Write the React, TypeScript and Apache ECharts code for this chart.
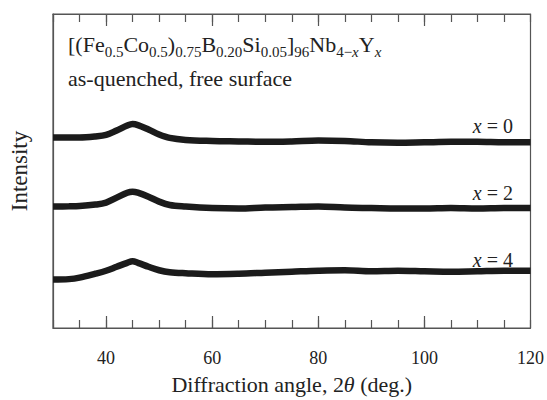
import React, { useEffect, useRef } from "react";
import * as echarts from "echarts";

// Diffraction angle 2θ (deg.)
const angles = [30, 33, 35, 38, 40, 42, 44, 45, 46, 48, 50, 52, 55, 60, 65, 70, 75, 80, 85, 90, 95, 100, 105, 110, 115, 120];
// Intensity (arbitrary units, curves offset vertically)
const seriesX0 = [193, 193, 193, 194, 195.5, 200, 205, 206.5, 205.5, 201, 196, 192.5, 190.5, 189.5, 189, 188.5, 189, 190, 189.5, 188, 187.5, 188, 188.5, 188.5, 188, 188];
const seriesX2 = [123, 123.2, 123.5, 125, 127, 132, 137, 138, 137, 133, 128, 124.5, 123, 121.5, 121, 122, 122.5, 123, 122, 121.5, 121, 121, 121.5, 121, 121.5, 121.5];
const seriesX4 = [49, 49.5, 51, 55, 58, 62, 66, 67.5, 66, 62, 58.5, 56.5, 55.5, 54.5, 55, 56, 57, 58, 58.5, 57.5, 58, 57.5, 57, 57.5, 58, 58];
const seriesLabels = ["0", "2", "4"];
const labelTicks = [40, 60, 80, 100, 120];
const majorTicks = [40, 60, 80, 100];

const FONT = "Liberation Serif";
const AXIS_COLOR = "#555";
const TEXT_COLOR = "#222";

export default function App() {
  const ref = useRef<HTMLDivElement>(null);
  useEffect(() => {
    if (!ref.current) return;
    const chart = echarts.init(ref.current, null, { renderer: "svg" });
    const pair = (vals: number[]) => angles.map((a, i) => [a, vals[i]]);
    const baseX = (position: "top" | "bottom", major: boolean, withLabels: boolean, idx: number) => ({
      type: "value",
      position,
      min: 30,
      max: 120,
      interval: 5,
      gridIndex: 0,
      axisLine: { show: idx === 0 || idx === 2, lineStyle: { color: AXIS_COLOR, width: 1.2 } },
      axisTick: major
        ? { show: true, inside: true, length: 12, customValues: majorTicks, lineStyle: { color: AXIS_COLOR, width: 1.2 } }
        : { show: true, inside: true, length: 8, lineStyle: { color: AXIS_COLOR, width: 1.2 } },
      axisLabel: withLabels
        ? {
            show: true,
            customValues: labelTicks,
            formatter: (v: number) => (labelTicks.includes(v) ? String(v) : ""),
            margin: 21,
            fontFamily: FONT,
            fontSize: 18,
            color: TEXT_COLOR,
          }
        : { show: false },
      splitLine: { show: false },
    });
    const xAxes: any[] = [
      {
        ...baseX("bottom", false, true, 0),
        name: "Diffraction angle, 2{i|θ} (deg.)",
        nameLocation: "middle",
        nameGap: 45,
        nameTextStyle: {
          fontFamily: FONT,
          fontSize: 22,
          color: TEXT_COLOR,
          rich: { i: { fontFamily: FONT, fontSize: 22, fontStyle: "italic", color: TEXT_COLOR } },
        },
      },
      baseX("bottom", true, false, 1),
      baseX("top", false, false, 2),
      baseX("top", true, false, 3),
    ];
    const mkSeries = (name: string, vals: number[]) => ({
      name,
      type: "line",
      xAxisIndex: 0,
      yAxisIndex: 0,
      data: pair(vals),
      showSymbol: false,
      smooth: 0.35,
      lineStyle: { color: "#1b1b1b", width: 6.5 },
    });
    const labelY = [127, 194, 261];
    const formulaRich = {
      m: { fontFamily: FONT, fontSize: 22, lineHeight: 30, color: TEXT_COLOR },
      s: { fontFamily: FONT, fontSize: 15, lineHeight: 15, verticalAlign: "bottom", color: TEXT_COLOR },
      si: { fontFamily: FONT, fontSize: 15, lineHeight: 15, verticalAlign: "bottom", fontStyle: "italic", color: TEXT_COLOR },
    };
    chart.setOption({
      animation: false,
      backgroundColor: "#ffffff",
      grid: { left: 53, right: 14, top: 14, bottom: 68, show: true, borderColor: AXIS_COLOR, borderWidth: 1.2, containLabel: false },
      xAxis: xAxes,
      yAxis: {
        type: "value",
        min: 0,
        max: 318,
        name: "Intensity",
        nameLocation: "middle",
        nameGap: 22,
        nameTextStyle: { fontFamily: FONT, fontSize: 23, color: TEXT_COLOR },
        axisLine: { show: true, lineStyle: { color: AXIS_COLOR, width: 1.2 } },
        axisTick: { show: false },
        axisLabel: { show: false },
        splitLine: { show: false },
      },
      series: [
        mkSeries("x = 0", seriesX0),
        mkSeries("x = 2", seriesX2),
        mkSeries("x = 4", seriesX4),
      ],
      graphic: [
        {
          type: "text",
          left: 68,
          top: 33,
          style: {
            text:
              "{m|[(Fe}{s|0.5}{m|Co}{s|0.5}{m|)}{s|0.75}{m|B}{s|0.20}{m|Si}{s|0.05}{m|]}{s|96}{m|Nb}{s|4−}{si|x}{m|Y}{si|x}",
            rich: formulaRich,
            fill: TEXT_COLOR,
          },
        },
        {
          type: "text",
          left: 68,
          top: 67,
          style: { text: "as-quenched, free surface", fontFamily: FONT, fontSize: 22, fill: TEXT_COLOR },
        },
        ...seriesLabels.map((n, i) => ({
          type: "text",
          right: 547 - 513,
          top: labelY[i] - 11,
          style: {
            text: "{i|x}{r| = " + n + "}",
            fill: TEXT_COLOR,
            rich: {
              i: { fontFamily: FONT, fontSize: 20, fontStyle: "italic", color: TEXT_COLOR },
              r: { fontFamily: FONT, fontSize: 20, color: TEXT_COLOR },
            },
          },
        })),
      ],
    });
    return () => chart.dispose();
  }, []);
  return <div ref={ref} style={{ position: "absolute", left: 0, top: 0, width: 547, height: 400 }} />;
}
